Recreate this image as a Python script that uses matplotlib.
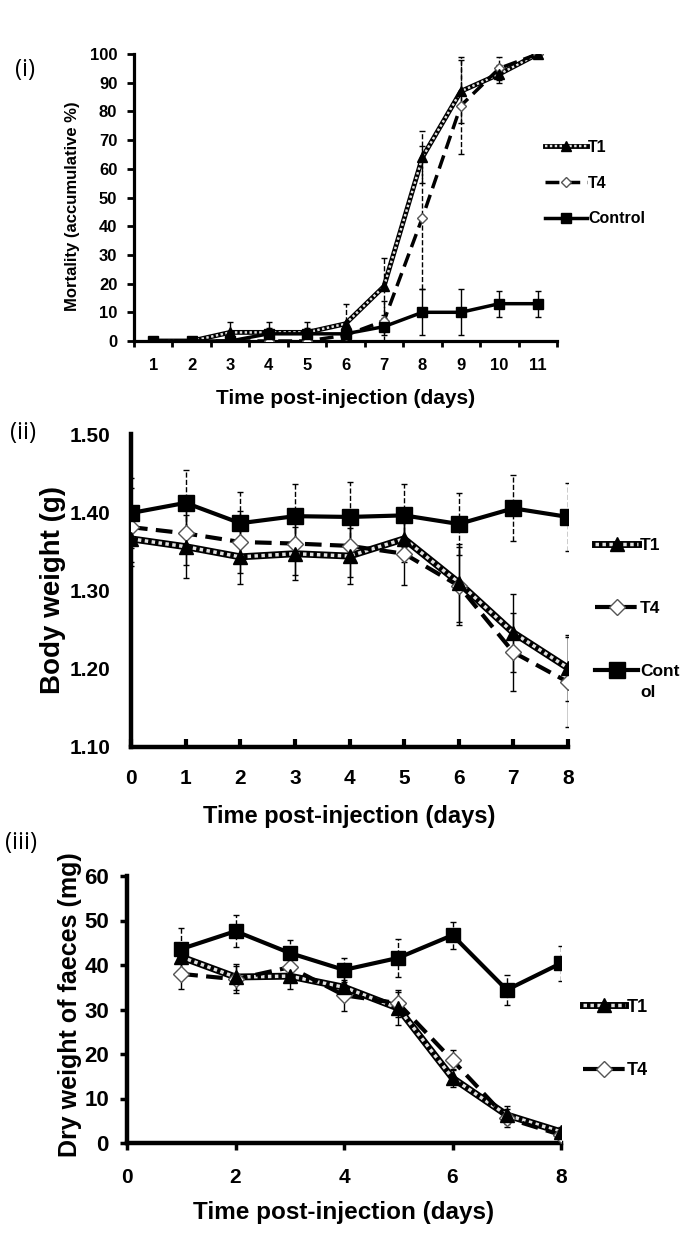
import matplotlib
matplotlib.use('Agg')
import matplotlib.pyplot as plt
import numpy as np
from matplotlib.legend_handler import HandlerTuple

plt.rcParams['font.family'] = ['Liberation Sans', 'DejaVu Sans']
plt.rcParams['font.weight'] = 'bold'
plt.rcParams['axes.labelweight'] = 'bold'

# (i) mortality, days 1-11
days_mort = [1, 2, 3, 4, 5, 6, 7, 8, 9, 10, 11]
t1_mort = [0, 0, 3, 3, 3, 6, 19, 64, 87, 93, 100]
t1_mort_err = [1, 0, 3.5, 3.5, 3.5, 7, 10, 9, 11, 3, 0]
t4_mort = [0, 0, 0, 0, 0, 2, 7, 43, 82, 95, 100]
t4_mort_err = [0, 0, 0, 0, 0, 0, 7, 25, 17, 4, 0]
ctrl_mort = [0, 0, 0, 2.5, 2.5, 2.5, 5, 10, 10, 13, 13]
ctrl_mort_err = [1, 0, 0, 2, 2, 2, 3, 8, 8, 4.5, 4.5]

# (ii) body weight, days 0-8
days_bw = [0, 1, 2, 3, 4, 5, 6, 7, 8]
t1_bw = [1.366, 1.356, 1.343, 1.347, 1.344, 1.366, 1.310, 1.246, 1.201]
t1_bw_err = [0.03, 0.04, 0.035, 0.034, 0.036, 0.03, 0.05, 0.05, 0.042]
t4_bw = [1.381, 1.373, 1.362, 1.360, 1.357, 1.347, 1.306, 1.221, 1.183]
t4_bw_err = [0.05, 0.04, 0.04, 0.04, 0.04, 0.04, 0.05, 0.05, 0.057]
ctrl_bw = [1.399, 1.412, 1.386, 1.395, 1.394, 1.396, 1.385, 1.405, 1.394]
ctrl_bw_err = [0.045, 0.042, 0.04, 0.041, 0.045, 0.04, 0.04, 0.042, 0.044]

# (iii) dry weight of faeces, days 1-8
days_fw = [1, 2, 3, 4, 5, 6, 7, 8]
t1_fw = [41.8, 37.3, 37.5, 35.0, 30.3, 14.6, 6.3, 2.5]
t1_fw_err = [3, 3, 3, 2.5, 3.7, 2, 2, 1]
t4_fw = [38.0, 36.8, 39.5, 33.2, 31.4, 18.6, 5.6, 1.8]
t4_fw_err = [3.5, 3, 3, 3.5, 3, 2.3, 2, 1]
ctrl_fw = [43.6, 47.6, 42.7, 38.9, 41.6, 46.7, 34.4, 40.4]
ctrl_fw_err = [4.7, 3.6, 3.0, 2.7, 4.2, 3.0, 3.4, 3.9]


def errbars(ax, x, y, err, ls):
    eb = ax.errorbar(x, y, yerr=err, fmt='none', ecolor='black',
                     elinewidth=1, capsize=2.5, capthick=1, zorder=2)
    eb[2][0].set_linestyle(ls)


def plot_t1(ax, x, y, err, lw, ms, els):
    errbars(ax, x, y, err, els)
    outer, = ax.plot(x, y, color='black', lw=lw, zorder=3)
    inner, = ax.plot(x, y, color='#e0e0e0', lw=lw * 0.5, ls=(0, (1, 1)), zorder=3)
    mk, = ax.plot(x, y, ls='none', marker='^', ms=ms, color='black', zorder=4)
    return (outer, inner, mk)


def plot_t4(ax, x, y, err, lw, ms, els):
    errbars(ax, x, y, err, els)
    ln, = ax.plot(x, y, color='black', lw=lw, ls=(0, (4, 2)), marker='D',
                  ms=ms, mfc='white', mec='#555555', mew=1, zorder=3)
    return ln


def plot_ctrl(ax, x, y, err, lw, ms, els):
    errbars(ax, x, y, err, els)
    ln, = ax.plot(x, y, color='black', lw=lw, marker='s', ms=ms, zorder=3)
    return ln


def style(ax, lw):
    for s in ['top', 'right']:
        ax.spines[s].set_visible(False)
    for s in ['left', 'bottom']:
        ax.spines[s].set_linewidth(lw)


fig = plt.figure(figsize=(6.85, 12.56), dpi=100)
W, H = 685.0, 1256.0
tup = {tuple: HandlerTuple(ndivide=1)}

# ---------- (i) ----------
ax1 = fig.add_axes([134 / W, 1 - 341 / H, 423 / W, 287 / H])
h1 = plot_t1(ax1, days_mort, t1_mort, t1_mort_err, 3.5, 7, '--')
h4 = plot_t4(ax1, days_mort, t4_mort, t4_mort_err, 2.5, 5, '--')
hc = plot_ctrl(ax1, days_mort, ctrl_mort, ctrl_mort_err, 2.5, 7, '-')
style(ax1, 2.3)
ax1.set_xlim(0.5, 11.5)
ax1.set_ylim(0, 100)
ax1.set_xticks(days_mort)
ax1.set_xticks(np.arange(0.5, 12, 1), minor=True)
ax1.set_yticks(range(0, 101, 10))
ax1.tick_params(axis='x', which='major', length=0, pad=12, labelsize=12)
ax1.tick_params(axis='x', which='minor', length=4, width=2, direction='out')
ax1.tick_params(axis='y', length=5, width=2, direction='out', pad=7, labelsize=12)
ax1.set_ylabel('Mortality (accumulative %)', fontsize=12, va='center')
ax1.yaxis.set_label_coords(-0.145, 0.47)
ax1.set_xlabel('Time post-injection (days)', fontsize=15, labelpad=12)
ax1.legend([h1, h4, hc], ['T1', 'T4', 'Control'], handler_map=tup,
           loc='center left', bbox_to_anchor=(545 / W, 1 - 183 / H),
           bbox_transform=fig.transFigure, frameon=False, fontsize=11.5,
           handlelength=2.6, handletextpad=0.1, labelspacing=1.3,
           borderpad=0, borderaxespad=0)
fig.text(15 / W, 1 - 70 / H, '(i)', fontsize=17, fontweight='normal',
         family='Open Sans', va='center', ha='left')

# ---------- (ii) ----------
ax2 = fig.add_axes([131 / W, 1 - 747 / H, 437 / W, 313 / H])
h1 = plot_t1(ax2, days_bw, t1_bw, t1_bw_err, 5, 10, '-')
h4 = plot_t4(ax2, days_bw, t4_bw, t4_bw_err, 3, 8, '-')
hc = plot_ctrl(ax2, days_bw, ctrl_bw, ctrl_bw_err, 3, 11, '--')
style(ax2, 3.2)
ax2.set_xlim(0, 8)
ax2.set_ylim(1.10, 1.50)
ax2.set_xticks(days_bw)
ax2.set_yticks([1.10, 1.20, 1.30, 1.40, 1.50])
ax2.yaxis.set_major_formatter(matplotlib.ticker.FormatStrFormatter('%.2f'))
ax2.tick_params(axis='x', length=6, width=3, direction='in', pad=16, labelsize=15)
ax2.tick_params(axis='y', length=0, pad=15, labelsize=15)
ax2.set_ylabel('Body weight (g)', fontsize=20, va='center')
ax2.yaxis.set_label_coords(-0.178, 0.5)
ax2.set_xlabel('Time post-injection (days)', fontsize=17, labelpad=12)
leg2 = ax2.legend([h1, h4, hc], ['T1', 'T4', 'Cont'], handler_map=tup,
                  loc='upper left', bbox_to_anchor=(595 / W, 1 - 538 / H),
                  bbox_transform=fig.transFigure, frameon=False, fontsize=12.5,
                  handlelength=2.5, handletextpad=0.1, labelspacing=2.75,
                  borderpad=0, borderaxespad=0)
# the label wraps onto a second line in the original
ax2.annotate('ol', xy=(0, 0), xycoords=leg2.get_texts()[2], xytext=(0, -4),
             textcoords='offset points', ha='left', va='top', fontsize=12.5,
             zorder=10)
fig.text(10 / W, 1 - 433 / H, '(ii)', fontsize=17, fontweight='normal',
         family='Open Sans', va='center', ha='left')

# ---------- (iii) ----------
ax3 = fig.add_axes([127 / W, 1 - 1143 / H, 434 / W, 267 / H])
h1 = plot_t1(ax3, days_fw, t1_fw, t1_fw_err, 5, 10, '-')
h4 = plot_t4(ax3, days_fw, t4_fw, t4_fw_err, 3, 8, '-')
hc = plot_ctrl(ax3, days_fw, ctrl_fw, ctrl_fw_err, 3, 10, '--')
style(ax3, 3.2)
ax3.set_xlim(0, 8)
ax3.set_ylim(0, 60)
ax3.set_xticks([0, 2, 4, 6, 8])
ax3.set_yticks(range(0, 61, 10))
ax3.tick_params(axis='x', length=5, width=2.5, direction='out', pad=13, labelsize=15)
ax3.tick_params(axis='y', length=5, width=2.5, direction='out', pad=8, labelsize=16)
ax3.set_ylabel('Dry weight of faeces (mg)', fontsize=18, va='center')
ax3.yaxis.set_label_coords(-0.131, 0.517)
ax3.set_xlabel('Time post-injection (days)', fontsize=17.5, labelpad=10)
ax3.legend([h1, h4], ['T1', 'T4'], handler_map=tup,
           loc='center left', bbox_to_anchor=(583 / W, 1 - 1039 / H),
           bbox_transform=fig.transFigure, frameon=False, fontsize=13,
           handlelength=2.3, handletextpad=0.1, labelspacing=2.6,
           borderpad=0, borderaxespad=0)
fig.text(5 / W, 1 - 843 / H, '(iii)', fontsize=17, fontweight='normal',
         family='Open Sans', va='center', ha='left')

fig.savefig('out.png', dpi=100)
